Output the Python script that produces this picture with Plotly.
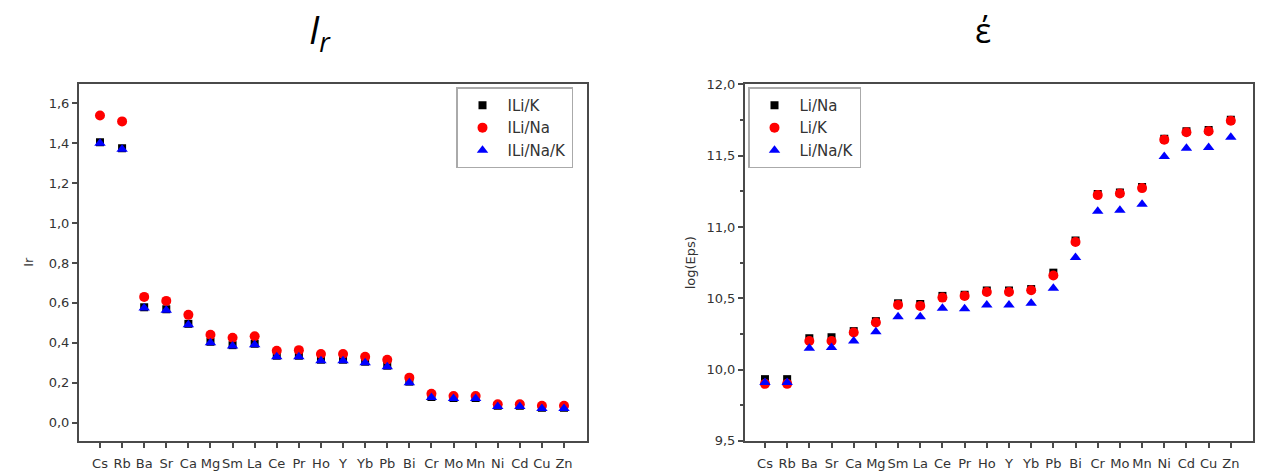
import plotly.graph_objects as go

elements = ["Cs", "Rb", "Ba", "Sr", "Ca", "Mg", "Sm", "La", "Ce", "Pr", "Ho",
            "Y", "Yb", "Pb", "Bi", "Cr", "Mo", "Mn", "Ni", "Cd", "Cu", "Zn"]

# Left panel: Ir
ir_li_k = [1.405, 1.375, 0.578, 0.568, 0.495, 0.405, 0.388, 0.395, 0.335, 0.335, 0.315,
           0.315, 0.305, 0.285, 0.205, 0.128, 0.123, 0.123, 0.084, 0.084, 0.074, 0.074]
ir_li_na = [1.54, 1.51, 0.63, 0.61, 0.54, 0.44, 0.425, 0.433, 0.36, 0.363, 0.344,
            0.344, 0.33, 0.315, 0.225, 0.144, 0.133, 0.133, 0.092, 0.092, 0.084, 0.084]
ir_li_na_k = [1.40, 1.37, 0.574, 0.563, 0.49, 0.40, 0.384, 0.39, 0.33, 0.33, 0.31,
              0.31, 0.30, 0.28, 0.20, 0.125, 0.12, 0.12, 0.081, 0.081, 0.071, 0.071]

# Right panel: log(Eps)
eps_li_na = [9.933, 9.933, 10.22, 10.227, 10.27, 10.34, 10.465, 10.46, 10.517, 10.525, 10.555,
             10.555, 10.565, 10.68, 10.905, 11.232, 11.243, 11.281, 11.62, 11.672, 11.68, 11.752]
eps_li_k = [9.90, 9.90, 10.20, 10.20, 10.26, 10.33, 10.454, 10.447, 10.505, 10.517, 10.544,
            10.544, 10.556, 10.66, 10.895, 11.224, 11.235, 11.273, 11.613, 11.665, 11.672, 11.745]
eps_li_na_k = [9.91, 9.91, 10.15, 10.155, 10.20, 10.265, 10.37, 10.37, 10.43, 10.427, 10.454,
               10.454, 10.465, 10.57, 10.787, 11.11, 11.117, 11.16, 11.495, 11.552, 11.558, 11.63]

FONT = "DejaVu Sans"
LINE = "#4a4a4a"
BLACK, RED, BLUE = "#000000", "#ff0000", "#0000ff"

fig = go.Figure()

def add(x, y, name, color, symbol, size, xa, ya, legend):
    fig.add_trace(go.Scatter(
        x=x, y=y, name=name, mode="markers", xaxis=xa, yaxis=ya, legend=legend,
        marker=dict(color=color, symbol=symbol, size=size, line=dict(width=0)),
    ))

add(elements, ir_li_k, "ILi/K", BLACK, "square", 8, "x", "y", "legend")
add(elements, ir_li_na, "ILi/Na", RED, "circle", 10, "x", "y", "legend")
add(elements, ir_li_na_k, "ILi/Na/K", BLUE, "triangle-up", 10, "x", "y", "legend")

add(elements, eps_li_na, "Li/Na", BLACK, "square", 8, "x2", "y2", "legend2")
add(elements, eps_li_k, "Li/K", RED, "circle", 10, "x2", "y2", "legend2")
add(elements, eps_li_na_k, "Li/Na/K", BLUE, "triangle-up", 10, "x2", "y2", "legend2")

W, H = 1266, 476

def xd(a, b):
    return [a / W, b / W]

def yd(top, bottom):
    return [1 - bottom / H, 1 - top / H]

axis_common = dict(
    showline=True, mirror=True, linecolor=LINE, linewidth=2,
    ticks="outside", ticklen=5, tickwidth=1.5, tickcolor=LINE,
    showgrid=False, zeroline=False,
    tickfont=dict(family=FONT, size=13, color="#333333"),
)

legend_common = dict(
    bgcolor="white", bordercolor="#aaaaaa", borderwidth=1.5,
    font=dict(family=FONT, size=15, color="#333333"),
    xanchor="left", yanchor="top", tracegroupgap=0, itemwidth=40,
)

fig.update_layout(
    width=W, height=H,
    margin=dict(l=0, r=0, t=0, b=0),
    paper_bgcolor="white", plot_bgcolor="white",
    separators=",.",
    xaxis=dict(domain=xd(79, 587), range=[-0.95, 22.04], type="category",
               anchor="y", tickangle=0, ticklabelstandoff=5, **axis_common),
    yaxis=dict(domain=yd(79, 448), range=[-0.092, 1.70], dtick=0.2, tick0=0,
               tickformat=".1f", anchor="x",
               title=dict(text="Ir", font=dict(family=FONT, size=13, color="#333333"),
                          standoff=12),
               **axis_common),
    xaxis2=dict(domain=xd(745, 1253), range=[-0.9, 22.0], type="category",
                anchor="y2", tickangle=0, ticklabelstandoff=5, **axis_common),
    yaxis2=dict(domain=yd(80, 448), range=[9.5, 12.0], dtick=0.5, tick0=9.5,
                tickformat=".1f", anchor="x2",
                minor=dict(ticks="outside", dtick=0.25, ticklen=3, tickcolor=LINE),
                title=dict(text="log(Eps)", font=dict(family=FONT, size=13, color="#333333"),
                           standoff=8),
                **axis_common),
    legend=dict(x=456 / W, y=1 - 83 / H, **legend_common),
    legend2=dict(x=748 / W, y=1 - 83 / H, **legend_common),
    annotations=[
        dict(text="<i>I<sub>r</sub></i>", x=320 / W, y=1 + 6 / H, xref="paper", yref="paper",
             xanchor="center", yanchor="top", showarrow=False,
             font=dict(family="Open Sans", size=38, color="black")),
        dict(text="έ", x=983 / W, y=1 + 2 / H, xref="paper", yref="paper",
             xanchor="center", yanchor="top", showarrow=False,
             font=dict(family="Open Sans", size=34, color="black")),
    ],
)

fig.write_html("out.html")
